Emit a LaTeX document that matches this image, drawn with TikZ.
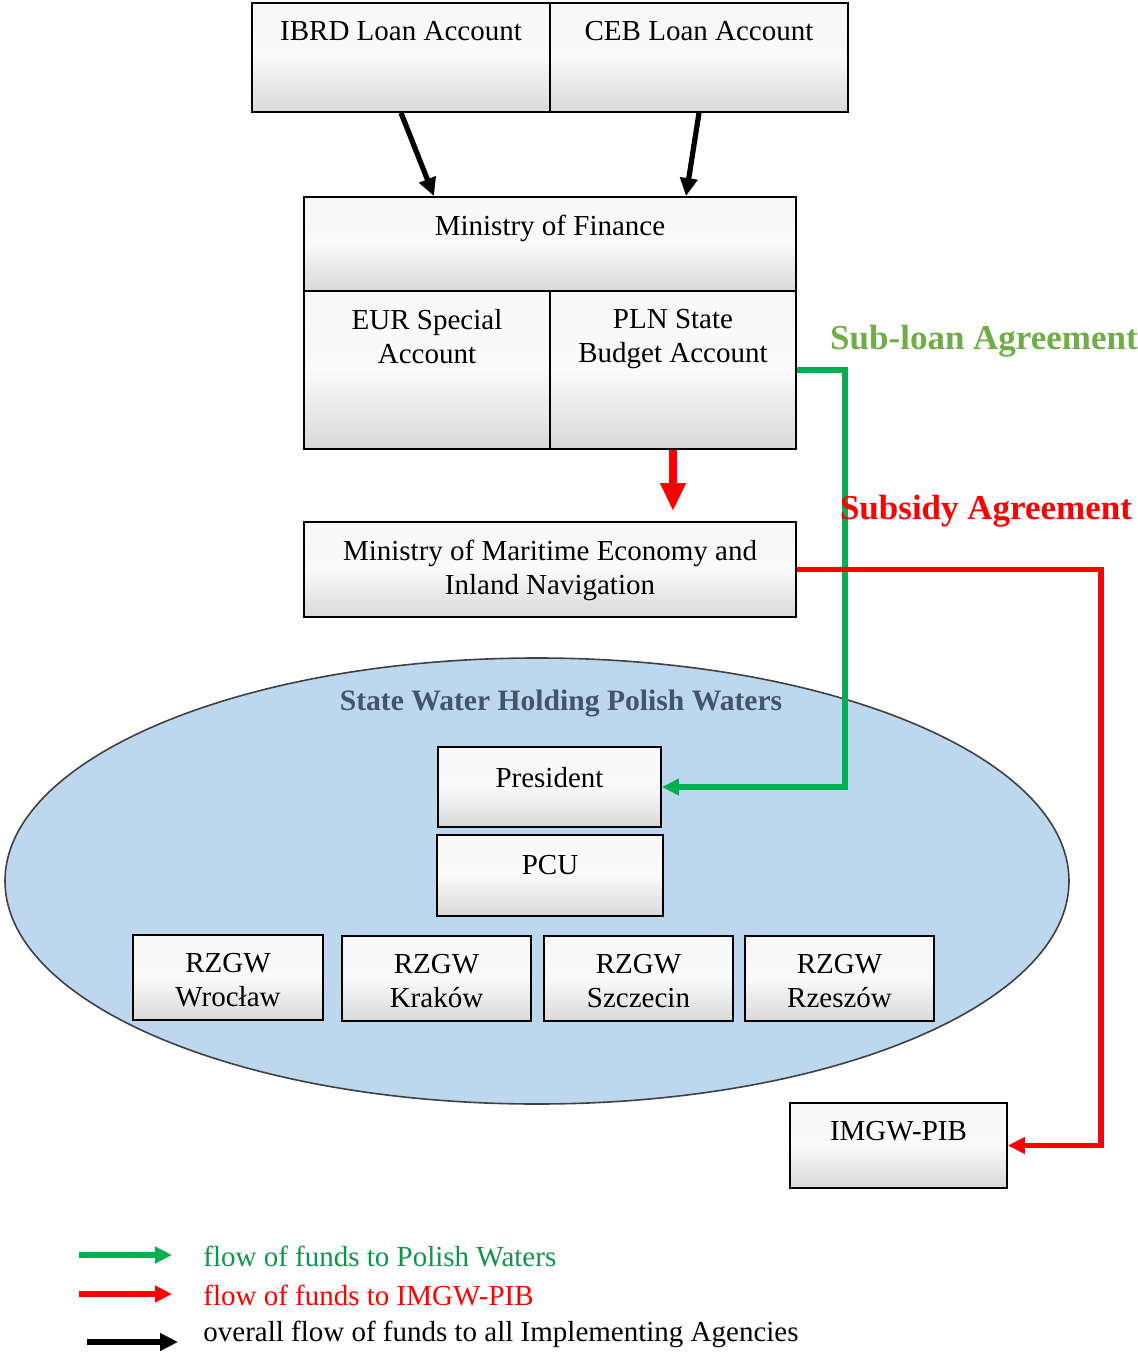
\documentclass[tikz,border=0pt]{standalone}
\usepackage{fontspec}
\setmainfont{Liberation Serif}
\usetikzlibrary{arrows.meta,shapes.geometric}
\definecolor{fgreen}{HTML}{00B050}
\definecolor{fgreentext}{HTML}{12934A}
\definecolor{fred}{HTML}{FF0000}
\definecolor{sublgreen}{HTML}{70AD47}
\definecolor{ellfill}{HTML}{BDD7EE}
\definecolor{titlecol}{HTML}{44546A}
\begin{document}
\begin{tikzpicture}[x=0.5pt,y=-0.5pt,
  box/.style={draw=black, line width=0.9pt, top color=gray!6, bottom color=gray!30, middle color=gray!4, inner sep=0pt},
  txt/.style={anchor=north, inner sep=0pt, align=center, font=\fontsize{14.5}{17}\selectfont},
  blk/.style={draw=black, line width=2.6pt, -{Triangle[width=8.5pt,length=9pt]}},
  grn/.style={draw=fgreen, line width=2.6pt, -{Triangle[width=8pt,length=8.5pt]}},
  rd/.style={draw=fred, line width=2.6pt, -{Triangle[width=8pt,length=8.5pt]}},
  lbl/.style={font=\bfseries\fontsize{17.5}{20}\selectfont, inner sep=0pt},
  lgt/.style={anchor=west, inner sep=0pt, font=\fontsize{14.5}{17}\selectfont}
]
\useasboundingbox (0,0) rectangle (1138,1354);

% ellipse
\node[ellipse, draw=black!75, line width=0.8pt, fill=ellfill, minimum width=532pt, minimum height=223pt, inner sep=0pt] (pw) at (537,881) {};
\node[font=\bfseries\fontsize{14.8}{17}\selectfont, text=titlecol, inner sep=0pt] (pwT) at (561,703) {State Water Holding Polish Waters};

% top boxes
\node[box, minimum width=149pt, minimum height=54.5pt] (ibrd) at (401,57.5) {};
\node[box, minimum width=149pt, minimum height=54.5pt] (ceb) at (699,57.5) {};
\node[txt] (ibrdT) at ([yshift=-9.5pt]ibrd.north) {IBRD Loan Account};
\node[txt] (cebT) at ([yshift=-9.5pt]ceb.north) {CEB Loan Account};

% Ministry of finance
\node[box, minimum width=246pt, minimum height=47pt] (mof) at (550,244) {};
\node[box, minimum width=123pt, minimum height=79pt] (eur) at (427,370) {};
\node[box, minimum width=123pt, minimum height=79pt] (pln) at (673,370) {};
\node[txt] (mofT) at ([yshift=-9.5pt]mof.north) {Ministry of Finance};
\node[txt] (eurT) at ([yshift=-9.5pt]eur.north) {EUR Special\\Account};
\node[txt] (plnT) at ([yshift=-9.5pt]pln.north) {PLN State\\Budget Account};

% MMEIN
\node[box, minimum width=246pt, minimum height=47.5pt] (mmein) at (550,569.5) {};
\node[txt] (mmeinT) at ([yshift=-9.5pt]mmein.north) {Ministry of Maritime Economy and\\Inland Navigation};

% inside ellipse
\node[box, minimum width=111.5pt, minimum height=40pt] (pres) at (549.5,787) {};
\node[txt] (presT) at ([yshift=-10.5pt]pres.north) {President};
\node[box, minimum width=113pt, minimum height=40.5pt] (pcu) at (550,875.5) {};
\node[txt] (pcuT) at ([yshift=-10.5pt]pcu.north) {PCU};
\node[box, minimum width=95pt, minimum height=42.5pt] (wro) at (228,977.5) {};
\node[txt] (wroT) at ([yshift=-9.5pt]wro.north) {RZGW\\Wrocław};
\node[box, minimum width=94.5pt, minimum height=42.5pt] (kra) at (436.5,978.5) {};
\node[txt] (kraT) at ([yshift=-9.5pt]kra.north) {RZGW\\Kraków};
\node[box, minimum width=94.5pt, minimum height=42.5pt] (szc) at (638.5,978.5) {};
\node[txt] (szcT) at ([yshift=-9.5pt]szc.north) {RZGW\\Szczecin};
\node[box, minimum width=94.5pt, minimum height=42.5pt] (rze) at (839.5,978.5) {};
\node[txt] (rzeT) at ([yshift=-9.5pt]rze.north) {RZGW\\Rzeszów};

% IMGW
\node[box, minimum width=108.5pt, minimum height=42.5pt] (imgw) at (898.5,1145.5) {};
\node[txt] (imgwT) at ([yshift=-9.5pt]imgw.north) {IMGW-PIB};

% connectors
\draw[blk] (ibrd.south) -- ([xshift=-58pt]mof.north);
\draw[blk] (ceb.south) -- ([xshift=68pt]mof.north);
\draw[draw=fred, line width=4.2pt, -{Triangle[width=12pt,length=14pt]}] (pln.south) -- ([yshift=5pt]mmein.north -| pln.south);

\coordinate (gc) at (845,370);
\draw[grn] (pln.east) -- (gc) |- (pres.east);
\coordinate (rc) at (1101,569.5);
\draw[rd] (mmein.east) -- (rc) |- (imgw.east);

% agreement labels
\node[lbl, text=sublgreen] (subl) at (984,341) {Sub-loan Agreement};
\node[lbl, text=fred] (subs) at (986,511) {Subsidy Agreement};

% legend
\coordinate (l1a) at (79,1255); \coordinate (l1b) at (172,1255);
\coordinate (l2a) at (79,1294); \coordinate (l2b) at (172,1294);
\coordinate (l3a) at (87,1342); \coordinate (l3b) at (178,1342);
\draw[grn] (l1a) -- (l1b);
\draw[rd] (l2a) -- (l2b);
\draw[blk] (l3a) -- (l3b);
\node[lgt, text=fgreentext] (lg1) at (203,1256) {flow of funds to Polish Waters};
\node[lgt, text=fred] (lg2) at (203,1295) {flow of funds to IMGW-PIB};
\node[lgt] (lg3) at (203,1334) {overall flow of funds to all Implementing Agencies};
\end{tikzpicture}
\end{document}
